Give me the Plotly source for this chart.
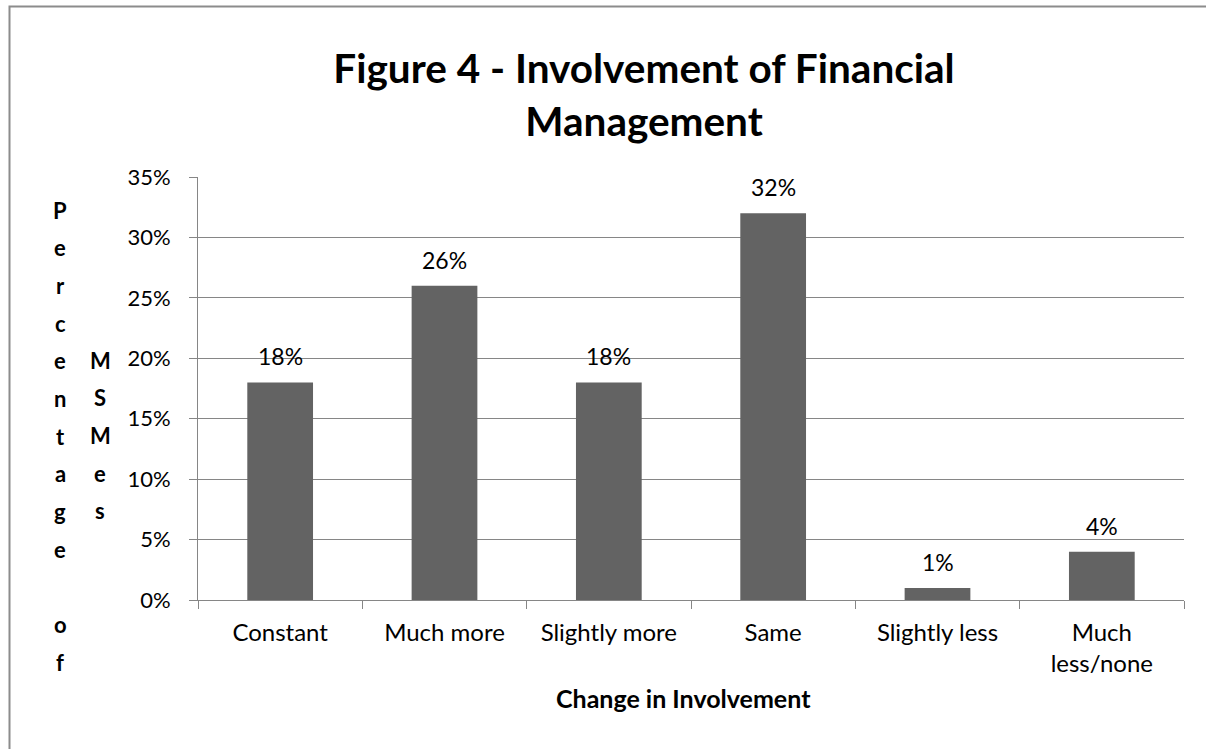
import plotly.graph_objects as go

categories = ["Constant", "Much more", "Slightly more", "Same", "Slightly less", "Much<br>less/none"]
values = [0.18, 0.26, 0.18, 0.32, 0.01, 0.04]
labels = ["18%", "26%", "18%", "32%", "1%", "4%"]
y_ticks = [0, 0.05, 0.10, 0.15, 0.20, 0.25, 0.30, 0.35]
y_tick_text = ["0%", "5%", "10%", "15%", "20%", "25%", "30%", "35%"]
title_text = "Figure 4 - Involvement of Financial<br>Management"
x_title = "Change in Involvement"
y_title_col1 = "Percentage of"
y_title_col2 = "MSMes"

FONT = "Lato"
GRID = "#868686"
W, H = 1206, 749
L, R, T, B = 198, 22, 177, 149
PW, PH = W - L - R, H - T - B

fig = go.Figure()
fig.add_trace(go.Bar(
    x=categories, y=values, marker=dict(color="#636363", line=dict(width=0)),
    cliponaxis=False,
))

def px_to_paper_x(px):
    return (px - L) / PW

def px_to_paper_y(py):
    return (H - B - py) / PH

annotations = []
# data labels above bars
for c, v, t in zip(categories, values, labels):
    annotations.append(dict(text=t, x=c, y=v, xref="x", yref="y", showarrow=False,
                            xanchor="center", yanchor="middle", yshift=26,
                            font=dict(family=FONT, size=23, color="#000000")))
# vertical stacked y-axis title
for i, ch in enumerate(y_title_col1):
    annotations.append(dict(text=ch, x=px_to_paper_x(60), y=px_to_paper_y(210 + i * 37.7),
                            xref="paper", yref="paper", showarrow=False,
                            xanchor="center", yanchor="middle",
                            font=dict(family=FONT, size=22, color="#000000", weight="bold")))
for i, ch in enumerate(y_title_col2):
    annotations.append(dict(text=ch, x=px_to_paper_x(100), y=px_to_paper_y(360 + i * 37.7),
                            xref="paper", yref="paper", showarrow=False,
                            xanchor="center", yanchor="middle",
                            font=dict(family=FONT, size=22, color="#000000", weight="bold")))
annotations.append(dict(text=x_title, x=px_to_paper_x(683), y=px_to_paper_y(698),
                        xref="paper", yref="paper", showarrow=False,
                        xanchor="center", yanchor="middle",
                        font=dict(family=FONT, size=25, color="#000000", weight="bold")))

fig.update_layout(
    width=W, height=H,
    margin=dict(l=L, r=R, t=T, b=B, autoexpand=False),
    paper_bgcolor="white", plot_bgcolor="white",
    bargap=0.6, showlegend=False,
    title=dict(text=title_text, x=644 / W, xanchor="center",
               y=1 - 83 / H, yanchor="middle",
               font=dict(family=FONT, size=40.5, color="#000000", weight="bold")),
    annotations=annotations,
    shapes=[dict(type="rect", xref="paper", yref="paper",
                 x0=px_to_paper_x(9.5), x1=px_to_paper_x(1230),
                 y0=px_to_paper_y(780), y1=px_to_paper_y(6.5),
                 line=dict(color="#8c8c8c", width=2), fillcolor="rgba(0,0,0,0)", layer="below")],
    xaxis=dict(type="category", showgrid=False, showline=True, linecolor=GRID, linewidth=1,
               ticks="outside", ticklen=8, tickcolor=GRID, tickson="boundaries",
               tickfont=dict(family=FONT, size=24, color="#000000"), ticklabelstandoff=11),
    yaxis=dict(range=[0, 0.35], tickvals=y_ticks, ticktext=y_tick_text,
               showgrid=True, gridcolor=GRID, gridwidth=1.3, showline=True, linecolor=GRID,
               ticks="outside", ticklen=8, tickcolor=GRID, zeroline=False,
               tickfont=dict(family=FONT, size=22, color="#000000"), ticklabelstandoff=14),
)

fig.write_html("out.html", config={"displayModeBar": False},
               post_script="document.body.style.margin='0px';")
